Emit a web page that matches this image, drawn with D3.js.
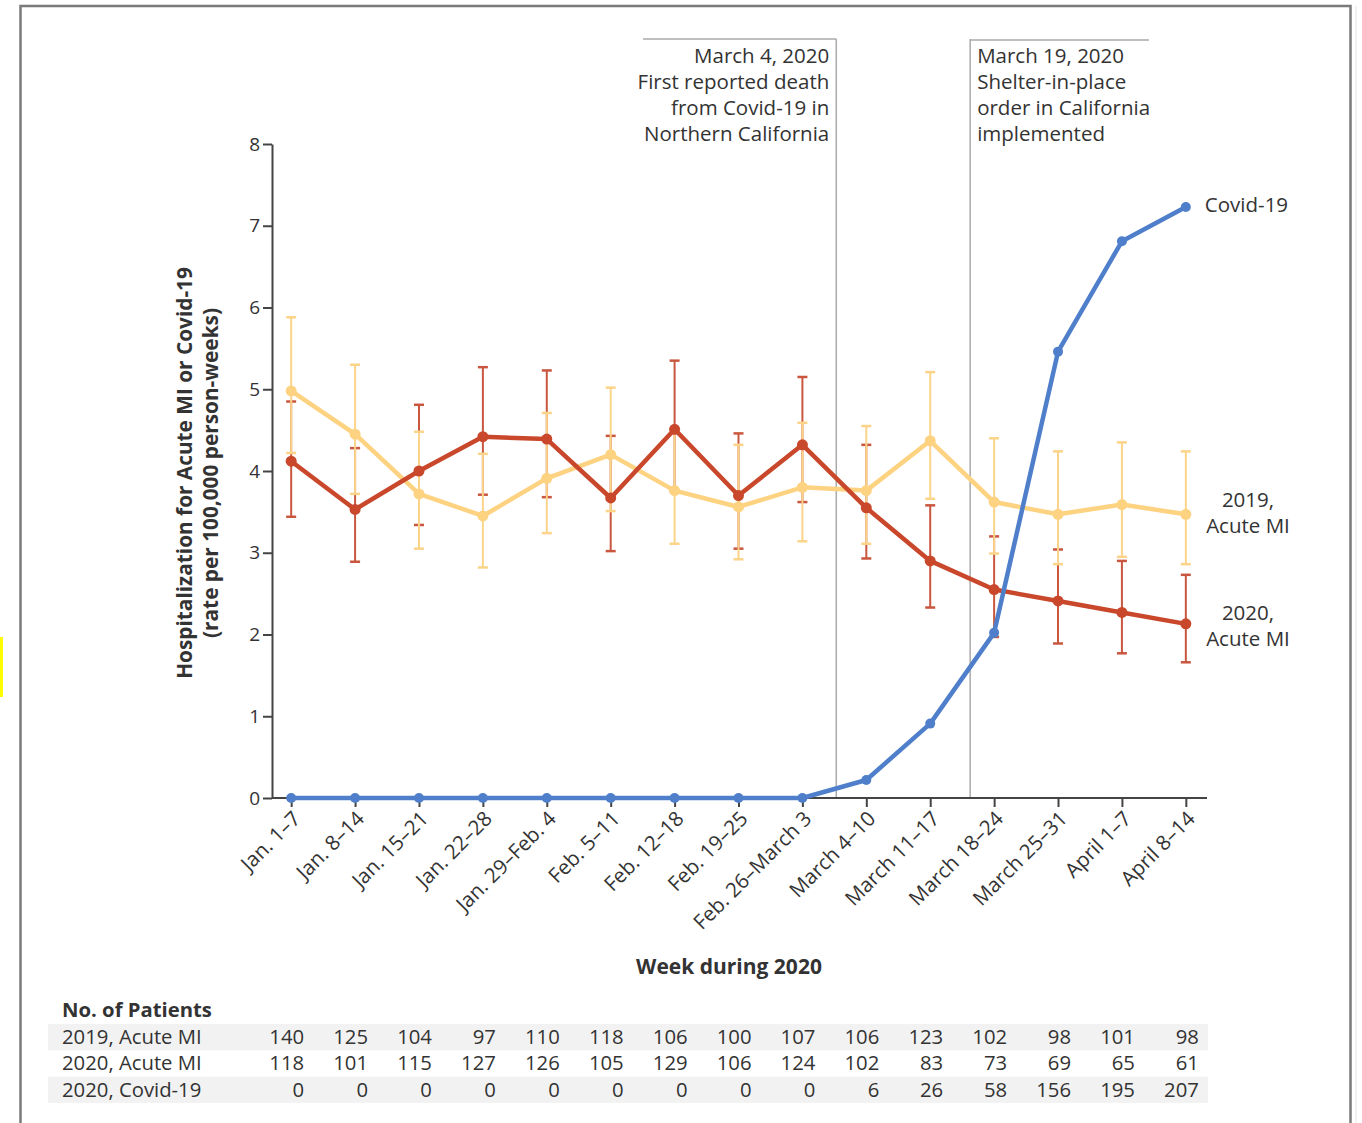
<!DOCTYPE html>
<html><head><meta charset="utf-8">
<script src="https://cdn.jsdelivr.net/npm/d3@7"></script>
<style>
body{margin:0;background:#fff;}
svg text{font-family:"Open Sans","Noto Sans",sans-serif;fill:#333;}
</style></head>
<body><svg id="c" width="1362" height="1123"></svg>
<script>
const weeks = ["Jan. 1–7","Jan. 8–14","Jan. 15–21","Jan. 22–28","Jan. 29–Feb. 4","Feb. 5–11","Feb. 12–18","Feb. 19–25","Feb. 26–March 3","March 4–10","March 11–17","March 18–24","March 25–31","April 1–7","April 8–14"];
const mi2019 = [4.98,4.45,3.72,3.45,3.91,4.20,3.76,3.56,3.80,3.76,4.37,3.62,3.47,3.59,3.47];
const mi2019Low = [4.22,3.72,3.05,2.82,3.24,3.51,3.11,2.92,3.14,3.11,3.66,2.99,2.86,2.95,2.86];
const mi2019High = [5.88,5.30,4.48,4.21,4.71,5.02,4.50,4.32,4.59,4.55,5.21,4.40,4.24,4.35,4.24];
const mi2020 = [4.12,3.53,4.00,4.42,4.39,3.67,4.51,3.70,4.32,3.55,2.90,2.55,2.41,2.27,2.13];
const mi2020Low = [3.44,2.89,3.34,3.71,3.68,3.02,3.75,3.05,3.62,2.93,2.33,1.97,1.89,1.77,1.66];
const mi2020High = [4.85,4.28,4.81,5.27,5.23,4.43,5.35,4.46,5.15,4.32,3.58,3.20,3.04,2.90,2.73];
const covid = [0,0,0,0,0,0,0,0,0,0.22,0.91,2.02,5.46,6.81,7.23];
const yTicks = [0,1,2,3,4,5,6,7,8];
const tableRows = ["2019, Acute MI","2020, Acute MI","2020, Covid-19"];
const n2019 = [140,125,104,97,110,118,106,100,107,106,123,102,98,101,98];
const n2020 = [118,101,115,127,126,105,129,106,124,102,83,73,69,65,61];
const nCovid = [0,0,0,0,0,0,0,0,0,6,26,58,156,195,207];
const events = [
  {week:"March 4–10", offset:-0.47, lines:["March 4, 2020","First reported death","from Covid-19 in","Northern California"], side:"left"},
  {week:"March 18–24", offset:-0.375, lines:["March 19, 2020","Shelter-in-place","order in California","implemented"], side:"right"}
];

const svg = d3.select("#c");
const RED = "#c9472b", YEL = "#fdd281", BLUE = "#4f7fca";
const RED_BAR = "#c9573f", YEL_BAR = "#fbd48a";
const TXT = "#363636";

// outer frame
svg.append("rect").attr("x",0).attr("y",637).attr("width",3).attr("height",60).attr("fill","#ffff00");
svg.append("rect").attr("x",20.5).attr("y",6).attr("width",1330).attr("height",1130)
  .attr("fill","none").attr("stroke","#7a7a7a").attr("stroke-width",2.5);
svg.append("line").attr("x1",1356).attr("x2",1356).attr("y1",6).attr("y2",1123).attr("stroke","#e4e4e4").attr("stroke-width",1);

const x = d3.scalePoint().domain(weeks).range([272,1205]).padding(0.3);
const y = d3.scaleLinear().domain([0,8]).range([798,144]);
const step = x.step();

// event lines
events.forEach(e=>{
  const lx = x(e.week) + e.offset*step;
  svg.append("line").attr("x1",lx).attr("x2",lx).attr("y1",39).attr("y2",y(0))
    .attr("stroke","#aaa").attr("stroke-width",1.5);
  const t = svg.append("g").attr("font-size",20.5);
  if(e.side==="left"){
    svg.append("line").attr("x1",643).attr("x2",lx).attr("y1",39).attr("y2",39).attr("stroke","#aaa").attr("stroke-width",1.5);
    e.lines.forEach((s,i)=>t.append("text").attr("x",lx-7).attr("y",63+i*26).attr("text-anchor","end").attr("fill",TXT).text(s));
  } else {
    svg.append("line").attr("x1",lx).attr("x2",1149).attr("y1",40).attr("y2",40).attr("stroke","#aaa").attr("stroke-width",1.5);
    e.lines.forEach((s,i)=>t.append("text").attr("x",lx+7).attr("y",63+i*26).attr("text-anchor","start").attr("fill",TXT).text(s));
  }
});

// axes
const yAx = svg.append("g").attr("transform","translate(272,0)")
  .call(d3.axisLeft(y).tickValues(yTicks).tickSize(9).tickSizeOuter(0).tickFormat(d3.format("d")));
yAx.selectAll("path,line").attr("stroke","#444").attr("stroke-width",2);
yAx.selectAll("text").attr("font-size",19).attr("font-family","Open Sans").attr("fill",TXT).attr("x",-12);

const xAx = svg.append("g").attr("transform",`translate(0,${y(0)})`)
  .call(d3.axisBottom(x).tickSize(9).tickSizeOuter(0));
xAx.select(".domain").attr("d","M272,0H1207");
xAx.selectAll("path,line").attr("stroke","#444").attr("stroke-width",2);
xAx.selectAll("text").attr("font-size",20.5).attr("font-family","Open Sans").attr("fill",TXT)
  .attr("text-anchor","end").attr("dy",0).attr("y",0)
  .attr("transform","translate(10,22) rotate(-45)");

// axis titles
const yt = svg.append("g").attr("transform","translate(0,473) rotate(-90)");
yt.append("text").attr("x",0).attr("y",192).attr("text-anchor","middle").attr("font-size",20.8).attr("font-weight","bold").attr("fill",TXT).text("Hospitalization for Acute MI or Covid-19");
yt.append("text").attr("x",0).attr("y",218).attr("text-anchor","middle").attr("font-size",20.8).attr("font-weight","bold").attr("fill",TXT).text("(rate per 100,000 person-weeks)");
svg.append("text").attr("x",729).attr("y",974).attr("text-anchor","middle").attr("font-size",21).attr("font-weight","bold").attr("fill",TXT).text("Week during 2020");

// error bars
function errBars(lo, hi, color){
  const g = svg.append("g").attr("stroke",color).attr("stroke-width",2);
  weeks.forEach((w,i)=>{
    g.append("line").attr("x1",x(w)).attr("x2",x(w)).attr("y1",y(lo[i])).attr("y2",y(hi[i]));
    g.append("line").attr("x1",x(w)-5).attr("x2",x(w)+5).attr("y1",y(lo[i])).attr("y2",y(lo[i])).attr("stroke-width",2.5);
    g.append("line").attr("x1",x(w)-5).attr("x2",x(w)+5).attr("y1",y(hi[i])).attr("y2",y(hi[i])).attr("stroke-width",2.5);
  });
}
errBars(mi2020Low, mi2020High, RED_BAR);
errBars(mi2019Low, mi2019High, YEL_BAR);

function series(vals, color, r){
  const line = d3.line().x((d,i)=>x(weeks[i])).y(d=>y(d));
  svg.append("path").datum(vals).attr("d",line).attr("fill","none").attr("stroke",color).attr("stroke-width",4.5).attr("stroke-linejoin","round");
  svg.append("g").selectAll("circle").data(vals).join("circle")
    .attr("cx",(d,i)=>x(weeks[i])).attr("cy",d=>y(d)).attr("r",r).attr("fill",color);
}
series(mi2019, YEL, 5.5);
series(mi2020, RED, 5.5);
series(covid, BLUE, 5);

// series labels
const last = weeks[weeks.length-1];
svg.append("text").attr("x",x(last)+19).attr("y",y(covid[14])+5).attr("font-size",20.5).attr("fill",TXT).text("Covid-19");
[[ "2019,","Acute MI", 500],["2020,","Acute MI",613]].forEach(([a,b,yy])=>{
  svg.append("text").attr("x",1248).attr("y",yy+7).attr("text-anchor","middle").attr("font-size",20.5).attr("fill",TXT).text(a);
  svg.append("text").attr("x",1248).attr("y",yy+33).attr("text-anchor","middle").attr("font-size",20.5).attr("fill",TXT).text(b);
});

// table
svg.append("text").attr("x",62).attr("y",1017).attr("font-size",20.3).attr("font-weight","bold").attr("fill",TXT).text("No. of Patients");
const rowsData = [n2019, n2020, nCovid];
rowsData.forEach((vals,r)=>{
  const ry = 1024 + r*26.3;
  if(r!==1) svg.append("rect").attr("x",48).attr("y",ry).attr("width",1160).attr("height",26.3).attr("fill","#f2f2f2");
  svg.append("text").attr("x",62).attr("y",ry+20).attr("font-size",20.3).attr("fill",TXT).text(tableRows[r]);
  vals.forEach((v,i)=>{
    svg.append("text").attr("x",x(weeks[i])+13).attr("y",ry+20).attr("text-anchor","end").attr("font-size",20.3).attr("fill",TXT).text(v);
  });
});
</script></body></html>
